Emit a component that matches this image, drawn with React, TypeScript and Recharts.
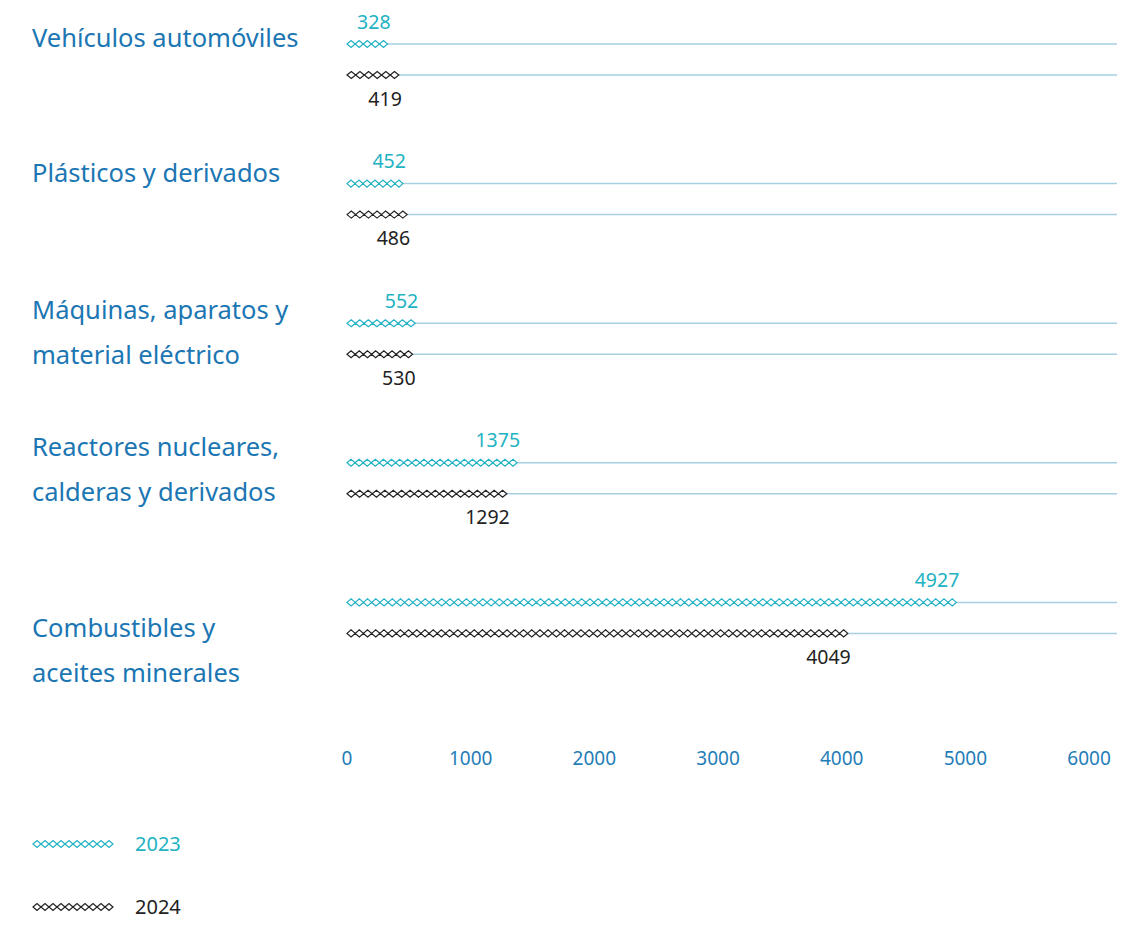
import React from 'react';
import { ComposedChart, Bar, XAxis, YAxis, LabelList, Legend } from 'recharts';

const categoryLines: string[][] = [
  ['Vehículos automóviles'],
  ['Plásticos y derivados'],
  ['Máquinas, aparatos y', 'material eléctrico'],
  ['Reactores nucleares,', 'calderas y derivados'],
  ['Combustibles y', 'aceites minerales'],
];
const categories = categoryLines.map((l) => l.join(' '));
const values2023 = [328, 452, 552, 1375, 4927];
const values2024 = [419, 486, 530, 1292, 4049];
const xTicks = [0, 1000, 2000, 3000, 4000, 5000, 6000];
const seriesNames = ['2023', '2024'];

const data = categories.map((name, i) => ({
  name,
  v2023: values2023[i],
  v2024: values2024[i],
}));

const TEAL = '#22b2c3';
const DARK = '#222222';
const BLUE = '#1b76b3';
const LINE = '#a6cfe2';
const FONT = '"Noto Sans", "Open Sans", sans-serif';

const labelShift = [-23, -27, -30, -33, 9];

function diamondPath(x: number, cy: number, width: number, unit: number) {
  const n = Math.max(1, Math.round(width / unit));
  const dw = width / n;
  let d = '';
  for (let i = 0; i < n; i++) {
    const x0 = x + i * dw;
    d += `M${x0},${cy}L${x0 + dw / 2},${cy - 3.5}L${x0 + dw},${cy}L${x0 + dw / 2},${cy + 3.5}Z`;
  }
  return d;
}

const makeShape = (color: string) => (props: any) => {
  const { x, y, width, height } = props;
  if (!width || width <= 0) return <g />;
  return (
    <path
      d={diamondPath(x, y + height / 2, width, 8.2)}
      fill="#fff"
      stroke={color}
      strokeWidth={1.2}
    />
  );
};

const bgLine = (props: any) => {
  const { x, y, width, height } = props;
  return (
    <line
      key={`bg-${props.index}`}
      x1={x}
      x2={x + width}
      y1={y + height / 2}
      y2={y + height / 2}
      stroke={LINE}
      strokeWidth={1.5}
    />
  );
};

const makeLabel = (color: string, above: boolean) => (props: any) => {
  const { x, y, width, height, value } = props;
  const cy = y + height / 2;
  return (
    <text
      x={x + width + 3}
      y={above ? cy - 23 : cy + 23}
      textAnchor="end"
      dominantBaseline="central"
      fill={color}
      fontSize={19.5}
      fontFamily={FONT}
    >
      {value}
    </text>
  );
};

const CategoryTick = (props: any) => {
  const { y, index } = props;
  const lines = categoryLines[index] || [];
  const base = y + labelShift[index];
  return (
    <g>
      {lines.map((t, k) => (
        <text
          key={k}
          x={24}
          y={base + k * 45}
          dominantBaseline="central"
          fill={BLUE}
          fontSize={25.5}
          fontFamily={FONT}
        >
          {t}
        </text>
      ))}
    </g>
  );
};

const LegendContent = () => (
  <div style={{ fontFamily: FONT, position: 'relative', height: 96 }}>
    {seriesNames.map((s, i) => {
      const color = i === 0 ? TEAL : DARK;
      return (
        <div
          key={s}
          style={{
            position: 'absolute',
            left: 0,
            top: i * 63,
            display: 'flex',
            alignItems: 'center',
            height: 30,
          }}
        >
          <svg width={82} height={10} style={{ display: 'block' }}>
            <path d={diamondPath(1, 5, 80, 8)} fill="#fff" stroke={color} strokeWidth={1.2} />
          </svg>
          <span style={{ marginLeft: 21, fontSize: 20, lineHeight: '30px', color }}>{s}</span>
        </div>
      );
    })}
  </div>
);

export default function App() {
  return (
    <div style={{ width: 1126, height: 910 }}>
      <ComposedChart
        width={1126}
        height={910}
        data={data}
        layout="vertical"
        margin={{ top: -18, right: 17, bottom: 170, left: 0 }}
        barGap={25}
      >
        <XAxis
          type="number"
          domain={[0, 6226]}
          ticks={xTicks}
          axisLine={false}
          tickLine={false}
          tickMargin={58}
          height={60}
          interval={0}
          tick={{ fill: '#1f7db8', fontSize: 19, fontFamily: FONT }}
        />
        <YAxis
          type="category"
          dataKey="name"
          width={339}
          axisLine={false}
          tickLine={false}
          interval={0}
          tick={<CategoryTick />}
        />
        <Legend
          layout="vertical"
          align="center"
          verticalAlign="middle"
          wrapperStyle={{ left: 24, top: 821, width: 300, height: 96 }}
          content={<LegendContent />}
        />
        <Bar
          dataKey="v2023"
          name="2023"
          barSize={6}
          isAnimationActive={false}
          background={bgLine}
          shape={makeShape(TEAL)}
        >
          <LabelList dataKey="v2023" content={makeLabel(TEAL, true)} />
        </Bar>
        <Bar
          dataKey="v2024"
          name="2024"
          barSize={6}
          isAnimationActive={false}
          background={bgLine}
          shape={makeShape(DARK)}
        >
          <LabelList dataKey="v2024" content={makeLabel(DARK, false)} />
        </Bar>
      </ComposedChart>
    </div>
  );
}
